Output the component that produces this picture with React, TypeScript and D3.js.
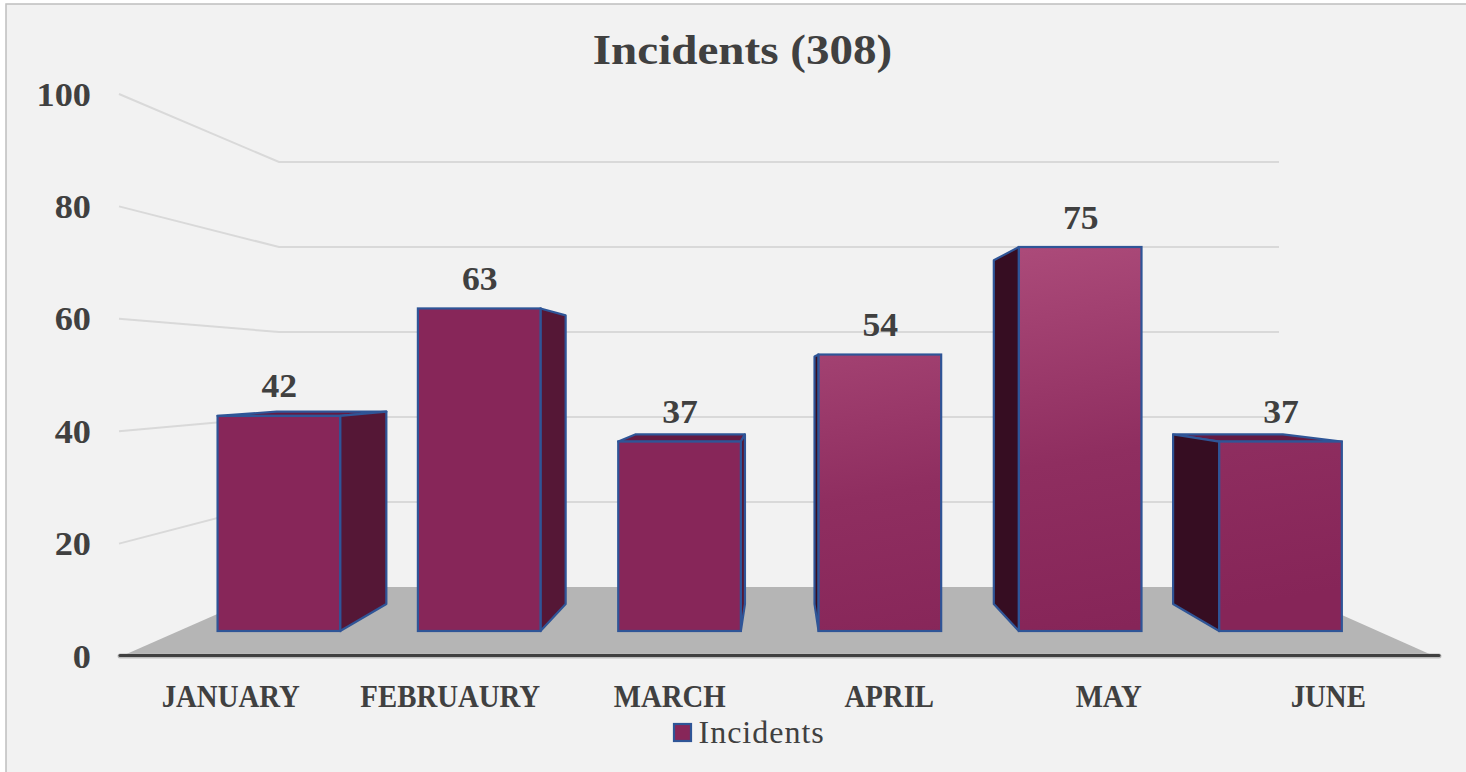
import React from "react";
import * as d3 from "d3";

const title = "Incidents (308)";
const months = ["JANUARY", "FEBRUAURY", "MARCH", "APRIL", "MAY", "JUNE"];
const incidents = [42, 63, 37, 54, 75, 37];
const yTicks = [0, 20, 40, 60, 80, 100];
const seriesName = "Incidents";

const W = 1466;
const H = 772;
const font = "'Liberation Serif', 'DejaVu Serif', serif";
const ink = "#404040";

// Screen scales for the three depth planes of the 3D chart
const wallFront = d3.scaleLinear().domain([0, 100]).range([656, 94]);
const wallBack = d3.scaleLinear().domain([0, 100]).range([587, 162]);
const barFront = d3.scaleLinear().domain([0, 100]).range([631, 119]);
const xBand = d3.scaleBand().domain(months).range([178.7, 1380.7]).paddingInner(0.388).paddingOuter(0.194);
const xLabel = d3.scaleBand().domain(months).range([121, 1438]);

// Perspective: the bar's rear face shrinks towards a vanishing point
const vpX = 780;
const vpY = 374;
const depth = 0.895;
const back = (x: number, y: number): [number, number] => [vpX + (x - vpX) * depth, vpY + (y - vpY) * depth];
const poly = (pts: [number, number][]) => pts.map((p) => p.join(",")).join(" ");

// Text drawn horizontally stretched, standing in for the wider bold serif of the original
function Label(props: {
  x: number;
  y: number;
  size: number;
  sx: number;
  anchor: "start" | "middle" | "end";
  weight?: number;
  children: React.ReactNode;
}) {
  return (
    <text
      transform={`translate(${props.x},${props.y}) scale(${props.sx},1)`}
      textAnchor={props.anchor}
      fontFamily={font}
      fontWeight={props.weight ?? 700}
      fontSize={props.size}
      fill={ink}
    >
      {props.children}
    </text>
  );
}

export default function App() {
  const bw = xBand.bandwidth();
  const stroke = "#2f5597";
  return (
    <svg
      width={W}
      height={H}
      viewBox={`0 0 ${W} ${H}`}
      style={{ position: "absolute", left: 0, top: 0, display: "block", background: "#fff" }}
    >
      <defs>
        <linearGradient id="front" gradientUnits="userSpaceOnUse" x1="1040" y1="247" x2="1110" y2="631">
          <stop offset="0" stopColor="#ab4a79" />
          <stop offset="0.55" stopColor="#8f2e60" />
          <stop offset="1" stopColor="#862558" />
        </linearGradient>
      </defs>
      <rect x={6} y={4} width={W} height={H} fill="#f2f2f2" stroke="#bfbfbf" strokeWidth={1.5} />

      <polygon
        points={poly([
          [122, wallFront(0)],
          [1434, wallFront(0)],
          [1279, wallBack(0)],
          [279, wallBack(0)],
        ])}
        fill="#b5b5b5"
      />

      {yTicks
        .filter((t) => t > 0)
        .map((t) => (
          <polyline
            key={t}
            points={poly([
              [119, wallFront(t)],
              [279, wallBack(t)],
              [1279, wallBack(t)],
            ])}
            fill="none"
            stroke="#d9d9d9"
            strokeWidth={2}
          />
        ))}

      <line x1={120} x2={1439} y1={656} y2={656} stroke="#bdbdbd" strokeWidth={5} strokeLinecap="round" />
      <line x1={120} x2={1439} y1={655.5} y2={655.5} stroke="#404040" strokeWidth={3} strokeLinecap="round" />

      {yTicks.map((t) => (
        <Label key={t} x={91} y={wallFront(t) + 11.5} size={33} sx={1.1} anchor="end">
          {t}
        </Label>
      ))}

      {months.map((m, i) => {
        const v = incidents[i];
        const x0 = xBand(m)!;
        const x1 = x0 + bw;
        const y0 = barFront(0);
        const y1 = barFront(v);
        const sideX = x1 < vpX ? x1 : x0;
        const side = poly([[sideX, y1], back(sideX, y1), back(sideX, y0), [sideX, y0]]);
        const top = poly([[x0, y1], [x1, y1], back(x1, y1), back(x0, y1)]);
        return (
          <g key={m}>
            {y1 > vpY && <polygon points={top} fill="#651b43" stroke={stroke} strokeWidth={2.2} strokeLinejoin="round" />}
            <polygon
              points={side}
              fill={x1 < vpX ? "#551736" : "#360d22"}
              stroke={stroke}
              strokeWidth={2.2}
              strokeLinejoin="round"
            />
            <rect
              x={x0}
              y={y1}
              width={bw}
              height={y0 - y1}
              fill={i >= 3 ? "url(#front)" : "#872659"}
              stroke={stroke}
              strokeWidth={2.2}
            />
            <Label x={(x0 + x1) / 2 + 0.5} y={y1 - 18.5} size={33} sx={1.08} anchor="middle">
              {v}
            </Label>
            <Label x={xLabel(m)! + xLabel.bandwidth() / 2} y={706.5} size={32} sx={0.9} anchor="middle">
              {m}
            </Label>
          </g>
        );
      })}

      <Label x={742.5} y={63.5} size={43} sx={1.095} anchor="middle">
        {title}
      </Label>

      <rect x={674} y={724} width={17} height={17} fill="#872659" stroke={stroke} strokeWidth={2.2} />
      <text x={698.5} y={742.5} fontFamily={font} fontSize={32} letterSpacing={1} fill={ink}>
        {seriesName}
      </text>
    </svg>
  );
}
